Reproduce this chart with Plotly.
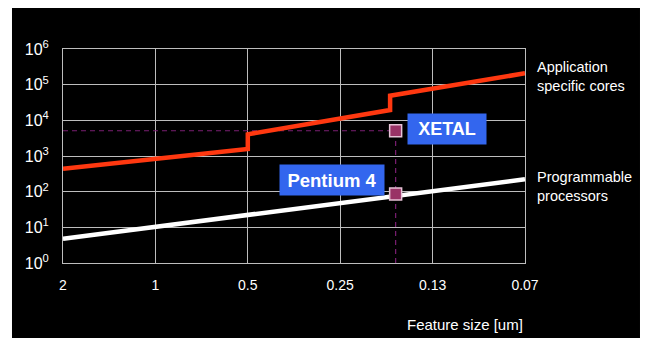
import plotly.graph_objects as go
import math

# ---- data ----
feature_sizes = ["2", "1", "0.5", "0.25", "0.13", "0.07"]   # categories (equally spaced)
x_index = [0, 1, 2, 3, 4, 5]

asic_x = [0, 2, 2, 3.54, 3.54, 5]
asic_y = [437, 1570, 4060, 19450, 49000, 208000]

proc_x = [0, 5]
proc_y = [4.8, 222]

xetal_x, xetal_y = 3.6, 5100
p4_x, p4_y = 3.6, 86

ytick_vals = [1, 10, 100, 1000, 10000, 100000, 1000000]
ytick_text = ["10<sup>%d</sup>" % i for i in range(7)]

FONT = "Arial, Liberation Sans, sans-serif"
GRID = "#bdbdbd"
DASH = "#7a1f72"

fig = go.Figure()

# dashed guide lines
fig.add_trace(go.Scatter(x=[x_index[0], xetal_x], y=[xetal_y, xetal_y], mode="lines",
                         line=dict(color=DASH, width=1.2, dash="5px,4px"), hoverinfo="skip"))
fig.add_trace(go.Scatter(x=[xetal_x, xetal_x], y=[ytick_vals[0], xetal_y], mode="lines",
                         line=dict(color=DASH, width=1.2, dash="5px,4px"), hoverinfo="skip"))

# main lines
fig.add_trace(go.Scatter(x=asic_x, y=asic_y, mode="lines",
                         line=dict(color="#ff3810", width=4.5)))
fig.add_trace(go.Scatter(x=proc_x, y=proc_y, mode="lines",
                         line=dict(color="#ffffff", width=4.5)))

# markers
fig.add_trace(go.Scatter(x=[xetal_x, p4_x], y=[xetal_y, p4_y], mode="markers",
                         marker=dict(symbol="square", size=12, color="#993366",
                                     line=dict(color="#e6c3d6", width=1.5))))

fig.update_layout(
    width=648, height=338,
    margin=dict(l=55, r=131, t=41, b=83),
    paper_bgcolor="white",
    plot_bgcolor="black",
    showlegend=False,
    font=dict(family=FONT, color="white"),
    shapes=[dict(type="rect", xref="paper", yref="paper", layer="below",
                 x0=-0.1104, x1=1.2489, y0=-0.40, y1=1.2196,
                 fillcolor="black", line=dict(width=0))],
)

fig.update_xaxes(range=[0, 5], tickvals=x_index, ticktext=feature_sizes,
                 showgrid=True, gridcolor=GRID, gridwidth=1, zeroline=False,
                 showline=True, mirror=True, linecolor=GRID, linewidth=1,
                 ticks="outside", ticklen=9, tickcolor="rgba(0,0,0,0)",
                 tickfont=dict(size=14, color="white", family=FONT))
fig.update_yaxes(type="log", range=[0, 6], tickvals=ytick_vals, ticktext=ytick_text,
                 showgrid=True, gridcolor=GRID, gridwidth=1, zeroline=False,
                 showline=True, mirror=True, linecolor=GRID, linewidth=1,
                 ticks="outside", ticklen=10, tickcolor="rgba(0,0,0,0)",
                 tickfont=dict(size=16, color="white", family=FONT))

# labels
fig.add_annotation(x=xetal_x, y=math.log10(xetal_y), xref="x", yref="y",
                   text="<b>XETAL</b>", showarrow=False, xanchor="left", yanchor="middle",
                   xshift=11, yshift=2, bgcolor="#3366ee", width=74, height=26, borderpad=2,
                   font=dict(size=18, color="white", family=FONT))
fig.add_annotation(x=p4_x, y=math.log10(p4_y), xref="x", yref="y",
                   text="<b>Pentium 4</b>", showarrow=False, xanchor="right", yanchor="middle",
                   xshift=-11, yshift=14, bgcolor="#3366ee", width=100, height=26, borderpad=2,
                   font=dict(size=18.5, color="white", family=FONT))

fig.add_annotation(x=1.0216, y=0.8706, xref="paper", yref="paper",
                   text="Application<br>specific cores", showarrow=False,
                   xanchor="left", yanchor="middle", align="left",
                   font=dict(size=14.5, color="white", family=FONT))
fig.add_annotation(x=1.0216, y=0.3575, xref="paper", yref="paper",
                   text="Programmable<br>processors", showarrow=False,
                   xanchor="left", yanchor="middle", align="left",
                   font=dict(size=14.5, color="white", family=FONT))
fig.add_annotation(x=1.0, y=-0.2897, xref="paper", yref="paper",
                   text="Feature size [um]", showarrow=False,
                   xanchor="right", yanchor="middle",
                   font=dict(size=15, color="white", family=FONT))

fig.write_html("out.html")
